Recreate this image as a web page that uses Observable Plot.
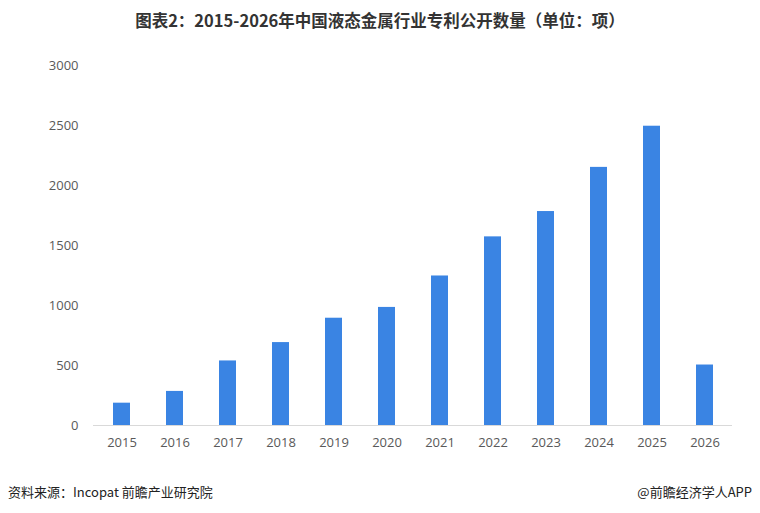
<!DOCTYPE html>
<html>
<head>
<meta charset="utf-8">
<script src="https://cdn.jsdelivr.net/npm/d3@7"></script>
<script src="https://cdn.jsdelivr.net/npm/@observablehq/plot@0.6"></script>
<style>
  html, body { margin: 0; padding: 0; background: #fff; }
  #wrap { position: relative; width: 760px; height: 513px; overflow: hidden; font-family: "Noto Sans CJK SC", "Noto Sans", sans-serif; }
  #title { position: absolute; left: 0; width: 760px; top: 8px; text-align: center; font-size: 16.5px; font-weight: bold; color: #333; line-height: 24px; }
  #chart { position: absolute; left: 0; top: 0; }
  #src { position: absolute; left: 8px; top: 482px; font-size: 13px; color: #222; line-height: 20px; }
  #app { position: absolute; right: 8px; top: 482px; font-size: 13px; color: #222; line-height: 20px; }
</style>
</head>
<body>
<div id="wrap">
  <div id="chart"></div>
  <div id="title">图表2：2015-2026年中国液态金属行业专利公开数量（单位：项）</div>
  <div id="src">资料来源：Incopat 前瞻产业研究院</div>
  <div id="app">@前瞻经济学人APP</div>
</div>
<script>
const years = ["2015","2016","2017","2018","2019","2020","2021","2022","2023","2024","2025","2026"];
const patents = [186, 284, 538, 691, 894, 984, 1246, 1572, 1783, 2151, 2494, 504];
const yTicks = [0, 500, 1000, 1500, 2000, 2500, 3000];

const data = years.map((y, i) => ({year: y, value: patents[i]}));

const chart = Plot.plot({
  width: 760,
  height: 460,
  marginTop: 65,
  marginBottom: 35,
  marginLeft: 93,
  marginRight: 28,
  style: { fontFamily: "'Open Sans', 'Noto Sans', sans-serif", fontSize: "13px", color: "#595959", background: "transparent" },
  x: { domain: years, paddingInner: 0.68, paddingOuter: 0.34, label: null, tickSize: 0, tickPadding: 12 },
  y: { domain: [0, 3000], ticks: yTicks, tickFormat: d => String(d), label: null, tickSize: 0, tickPadding: 15 },
  marks: [
    Plot.barY(data, { x: "year", y: "value", fill: "#3a84e3" }),
    Plot.ruleY([0], { stroke: "#d9d9d9", strokeWidth: 1 })
  ]
});
document.getElementById("chart").appendChild(chart);
</script>
</body>
</html>
